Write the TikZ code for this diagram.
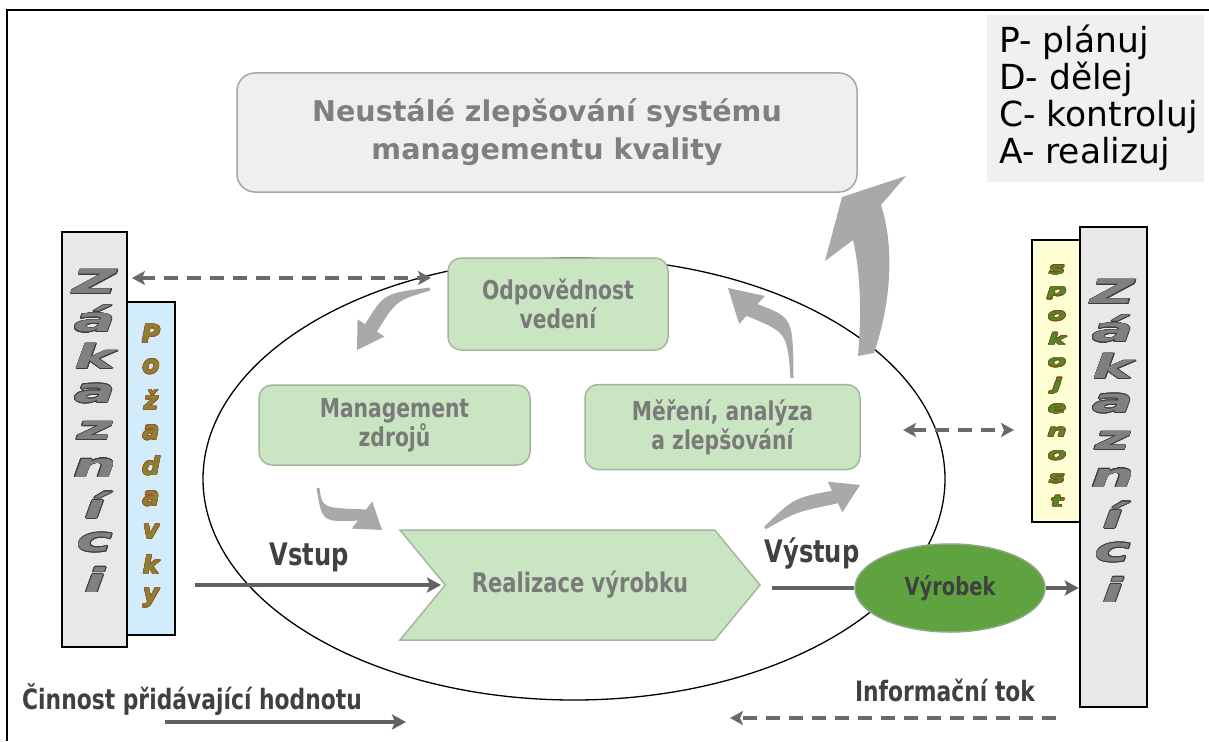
\documentclass[tikz,border=0pt]{standalone}
\usepackage{fontspec}
\usepackage{contour}
\usetikzlibrary{arrows.meta,calc,shapes.geometric,shapes.symbols}
\setmainfont{DejaVu Sans}
\newfontfamily\narrowsans[FakeStretch=0.78]{DejaVu Sans}
\newfontfamily\widesans[FakeStretch=1.85]{DejaVu Sans}
\newfontfamily\midwide[FakeStretch=1.7]{DejaVu Sans}
\contourlength{0.6pt}

\definecolor{gboxfill}{HTML}{C9E5C1}
\definecolor{gboxline}{HTML}{A3B79C}
\definecolor{boxtext}{HTML}{7A7A7A}
\definecolor{titlefill}{HTML}{EFEFEF}
\definecolor{titleline}{HTML}{A6A6A6}
\definecolor{titletext}{HTML}{7F7F7F}
\definecolor{pdcafill}{HTML}{F0F0F0}
\definecolor{curvegray}{HTML}{A9A9A9}
\definecolor{flowgray}{HTML}{626262}
\definecolor{dashgray}{HTML}{6A6A6A}
\definecolor{zakfill}{HTML}{E8E8E8}
\definecolor{zaktext}{HTML}{808080}
\definecolor{zakedge}{HTML}{3C3C3C}
\definecolor{pozfill}{HTML}{D3ECFB}
\definecolor{poztext}{HTML}{8A8230}
\definecolor{pozedge}{HTML}{A0522D}
\definecolor{spofill}{HTML}{FFFFD5}
\definecolor{spotext}{HTML}{4F8A2A}
\definecolor{spoedge}{HTML}{8B4513}
\definecolor{vyrfill}{HTML}{5EA33F}
\definecolor{vyrline}{HTML}{8DA585}
\definecolor{labeldark}{HTML}{404040}

\tikzset{infohead/.tip={Stealth[length=13pt,width=14pt,inset=3pt]},
         flowhead/.tip={Stealth[length=14pt,width=15pt,inset=3pt]}}

% tapered curved arrow: name, tail, control, head base, tip,
% tail half width, shaft half width, head half width
\newcommand\bend[8]{%
  \coordinate (#1t) at #2; \coordinate (#1c) at #3;
  \coordinate (#1b) at #4; \coordinate (#1h) at #5;
  \fill[turn] ($(#1t)!#6!90:(#1c)$) .. controls ($(#1c)!#7!90:(#1b)$) .. ($(#1b)!#7!90:(#1h)$)
    -- ($(#1b)!#8!90:(#1h)$) -- (#1h) -- ($(#1b)!#8!-90:(#1h)$) -- ($(#1b)!#7!-90:(#1h)$)
    .. controls ($(#1c)!#7!-90:(#1b)$) .. ($(#1t)!#6!-90:(#1c)$) -- cycle;}

\begin{document}
\begin{tikzpicture}[x=1pt,y=-1pt,
  gbox/.style={draw=gboxline,fill=gboxfill,line width=1.5pt,rounded corners=13pt,
    align=center,text=boxtext,font=\narrowsans\bfseries\fontsize{26}{29}\selectfont},
  side/.style={draw=black,line width=2.6pt},
  zakletter/.style={inner sep=0pt,text=zaktext,
    font=\widesans\bfseries\itshape\fontsize{33}{33}\selectfont},
  pozletter/.style={inner sep=0pt,text=poztext,
    font=\bfseries\itshape\fontsize{25}{25}\selectfont},
  spoletter/.style={inner sep=0pt,text=spotext,
    font=\midwide\bfseries\itshape\fontsize{16}{16}\selectfont},
  turn/.style={fill=curvegray},
  flowarrow/.style={draw=flowgray,line width=4pt,-flowhead},
  flowline/.style={draw=flowgray,line width=4pt},
  infoline/.style={draw=dashgray,line width=4pt,dash pattern=on 14pt off 9pt},
  flowlabel/.style={inner sep=0pt,text=labeldark,font=\narrowsans\bfseries\fontsize{31}{31}\selectfont},
  legendlabel/.style={inner sep=0pt,text=labeldark,font=\narrowsans\bfseries\fontsize{28}{28}\selectfont},
]
\useasboundingbox (0,0) rectangle (1209,741);
\fill[white] (0,0) rectangle (1209,741);

% frame
\draw[line width=2pt] (7,741) -- (7,10) -- (1209,10);

% PDCA legend
\node[fill=pdcafill,minimum width=217pt,minimum height=167pt,inner sep=0pt] (pdcabox) at (1095.5,98.5) {};
\node[anchor=west,align=left,inner sep=0pt,font=\fontsize{34.5}{37}\selectfont] (pdca) at (999,98) {P- plánuj\\D- dělej\\C- kontroluj\\A- realizuj};

% title
\node[draw=titleline,fill=titlefill,line width=1.5pt,rounded corners=18pt,
  minimum width=620pt,minimum height=119pt,align=center,text=titletext,
  font=\bfseries\fontsize{28.6}{38}\selectfont] (title) at (547,132.5)
  {Neustálé zlepšování systému\\managementu kvality};

% process ellipse
\node[draw,ellipse,line width=1.3pt,minimum width=742pt,minimum height=442pt] (loop) at (574,479) {};

% customers, left
\node[side,fill=zakfill,minimum width=65pt,minimum height=415pt] (zakL) at (94.5,439.5) {};
\node[side,fill=pozfill,minimum width=48pt,minimum height=333pt] (poz) at (151,468.5) {};
\foreach \ch [count=\i] in {Z,á,k,a,z,n,í,c,i}
  \node[zakletter] (zl\i) at (95,{282+37.25*(\i-1)}) {\contour{zakedge}{\ch}};
\foreach \ch [count=\i] in {P,o,ž,a,d,a,v,k,y}
  \node[pozletter] (pl\i) at (151,{334+33*(\i-1)}) {\contour{pozedge}{\ch}};

% customers, right
\node[side,fill=spofill,minimum width=50pt,minimum height=282pt] (spo) at (1057,381) {};
\node[side,fill=zakfill,minimum width=67pt,minimum height=480pt] (zakR) at (1113.5,467) {};
\foreach \ch [count=\i] in {s,p,o,k,o,j,e,n,o,s,t}
  \node[spoletter] (sl\i) at (1057,{270+23.2*(\i-1)}) {\contour{spoedge}{\ch}};
\foreach \ch [count=\i] in {Z,á,k,a,z,n,í,c,i}
  \node[zakletter] (zr\i) at (1113,{292+37.25*(\i-1)}) {\contour{zakedge}{\ch}};

% process boxes
\node[gbox,minimum width=220pt,minimum height=92pt] (odp) at (558,304) {Odpovědnost\\vedení};
\node[gbox,minimum width=271pt,minimum height=80pt] (man) at (394.5,425) {Management\\zdrojů};
\node[gbox,minimum width=275pt,minimum height=85pt] (mer) at (722.5,427) {Měření, analýza\\a zlepšování};
\node[signal,signal from=west,signal to=east,signal pointer angle=101,
  draw=gboxline,fill=gboxfill,line width=1.5pt,minimum width=360pt,minimum height=110pt,
  text=boxtext,font=\narrowsans\bfseries\fontsize{27}{29}\selectfont] (real) at (580,585) {Realizace výrobku};

% curved cycle arrows
\bend{ta}{(430,289)}{(390,297)}{(371,328)}{(357,350)}{1.5pt}{7pt}{16pt}
\bend{tb}{(792,378)}{(790,325)}{(752,310)}{(728,288)}{1.5pt}{8pt}{19pt}
\bend{td}{(318,488)}{(322,515)}{(362,515)}{(382,530)}{1.5pt}{7pt}{17pt}
\bend{te}{(765,528)}{(795,505)}{(835,497)}{(860,485)}{1.5pt}{7pt}{17pt}
% large arrow towards continual improvement
\fill[turn] (858,356) .. controls (862,310) and (860,270) .. (853,240) -- (825,261)
  -- (842,197) -- (906,176) -- (881,205) .. controls (894,245) and (892,300) .. (874,353) -- cycle;

% value flow
\coordinate (vin) at (195,585);
\coordinate (vinend) at (441,585);
\coordinate (vout) at (772,588);
\draw[flowarrow] (vin) -- (vinend);
\node[flowlabel] (vstup) at (309,557) {Vstup};
\node[flowlabel] (vystup) at (812,553) {Výstup};
\node[ellipse,draw=vyrline,fill=vyrfill,line width=1.5pt,minimum width=190pt,minimum height=88pt,
  inner sep=0pt,text=labeldark,font=\narrowsans\bfseries\fontsize{25}{25}\selectfont] (vyr) at (950,588) {Výrobek};
\draw[flowline] (vout) -- (vyr.west);
\draw[flowarrow] (vyr.east) -- (zakR.west |- vyr.east);

% information flow
\coordinate (il) at (132,278);
\coordinate (ir) at (431,278);
\draw[infoline,infohead-infohead] (il) -- (ir);
\coordinate (jl) at (903,430);
\coordinate (jr) at (1014,430);
\draw[infoline,infohead-infohead] (jl) -- (jr);

% legend
\node[legendlabel,anchor=west] (lval) at (22,700) {Činnost přidávající hodnotu};
\coordinate (la) at (165,722);
\coordinate (lb) at (406,722);
\draw[flowarrow] (la) -- (lb);
\node[legendlabel] (linfo) at (945,690) {Informační tok};
\coordinate (ma) at (1056,718);
\coordinate (mb) at (730,718);
\draw[infoline,-infohead] (ma) -- (mb);
\end{tikzpicture}
\end{document}
